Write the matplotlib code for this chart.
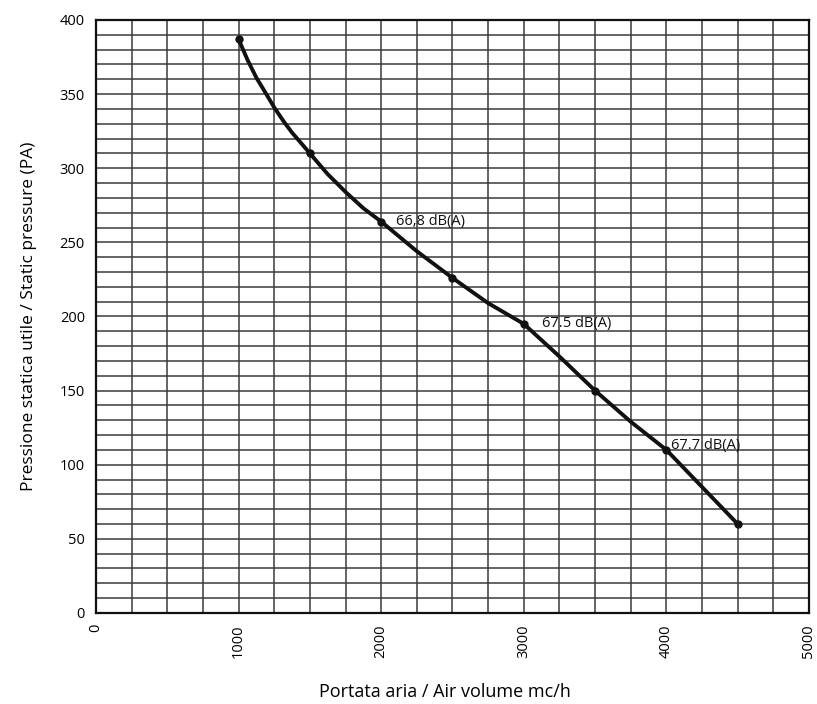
import numpy as np
import matplotlib
matplotlib.use("Agg")
import matplotlib.pyplot as plt

plt.rcParams['font.family'] = ['Open Sans', 'DejaVu Sans']

airflow = [1000, 1500, 2000, 2500, 3000, 3500, 4000, 4500]
pressure = [387, 310, 264, 226, 195, 150, 110, 60]

# the drawn curve
curve_x = [1000, 1063, 1125, 1188, 1250, 1313, 1375, 1438, 1500, 1625, 1750,
           1875, 2000, 2250, 2500, 2750, 3000, 3250, 3500, 3750, 4000, 4250, 4500]
curve_y = [387, 373, 361, 351, 341, 332, 324, 317, 310, 296, 284,
           273, 264, 244, 226, 209, 195, 173, 150, 129, 110, 85, 60]

noise_x = [2000, 3000, 4000]
noise_y = [264, 195, 110]
noise_text = ["66,8 dB(A)", "67.5 dB(A)", "67.7 dB(A)"]
noise_offset = [(11, 0), (13, 0), (3, 3)]

xticks = [0, 1000, 2000, 3000, 4000, 5000]
yticks = [0, 50, 100, 150, 200, 250, 300, 350, 400]

fig = plt.figure(figsize=(8.17, 7.04), dpi=100)
ax = fig.add_axes([0.1175, 0.1293, 0.8727, 0.8423])

ax.set_xlim(0, 5000)
ax.set_ylim(0, 400)

# grid
for gx in np.arange(250, 5000, 250):
    ax.axvline(gx, color='#3a3a3a', lw=1.1, zorder=1)
for gy in np.arange(10, 400, 10):
    ax.axhline(gy, color='#3a3a3a', lw=1.1, zorder=1)

ax.plot(curve_x, curve_y, color='#111111', lw=2.8, zorder=3,
        solid_capstyle='round', solid_joinstyle='round')
ax.plot(airflow, pressure, 'o', color='#111111', markersize=5, zorder=4)

for x, y, t, off in zip(noise_x, noise_y, noise_text, noise_offset):
    ax.annotate(t, (x, y), xytext=off, textcoords='offset points',
                fontsize=10.5, color='#111111', ha='left', va='center', zorder=5)

ax.set_xticks(xticks)
ax.set_xticklabels([str(v) for v in xticks], rotation=90, fontsize=10.5)
ax.set_yticks(yticks)
ax.set_yticklabels([str(v) for v in yticks], fontsize=10.5)
ax.tick_params(length=0, pad=8)

for s in ax.spines.values():
    s.set_color('#111111')
    s.set_linewidth(1.6)

ax.set_xlabel("Portata aria / Air volume mc/h", fontsize=13)
ax.xaxis.set_label_coords(0.49, -0.118)
ax.set_ylabel("Pressione statica utile / Static pressure (PA)", fontsize=12.5, labelpad=16)

fig.savefig("out.png", dpi=100)
